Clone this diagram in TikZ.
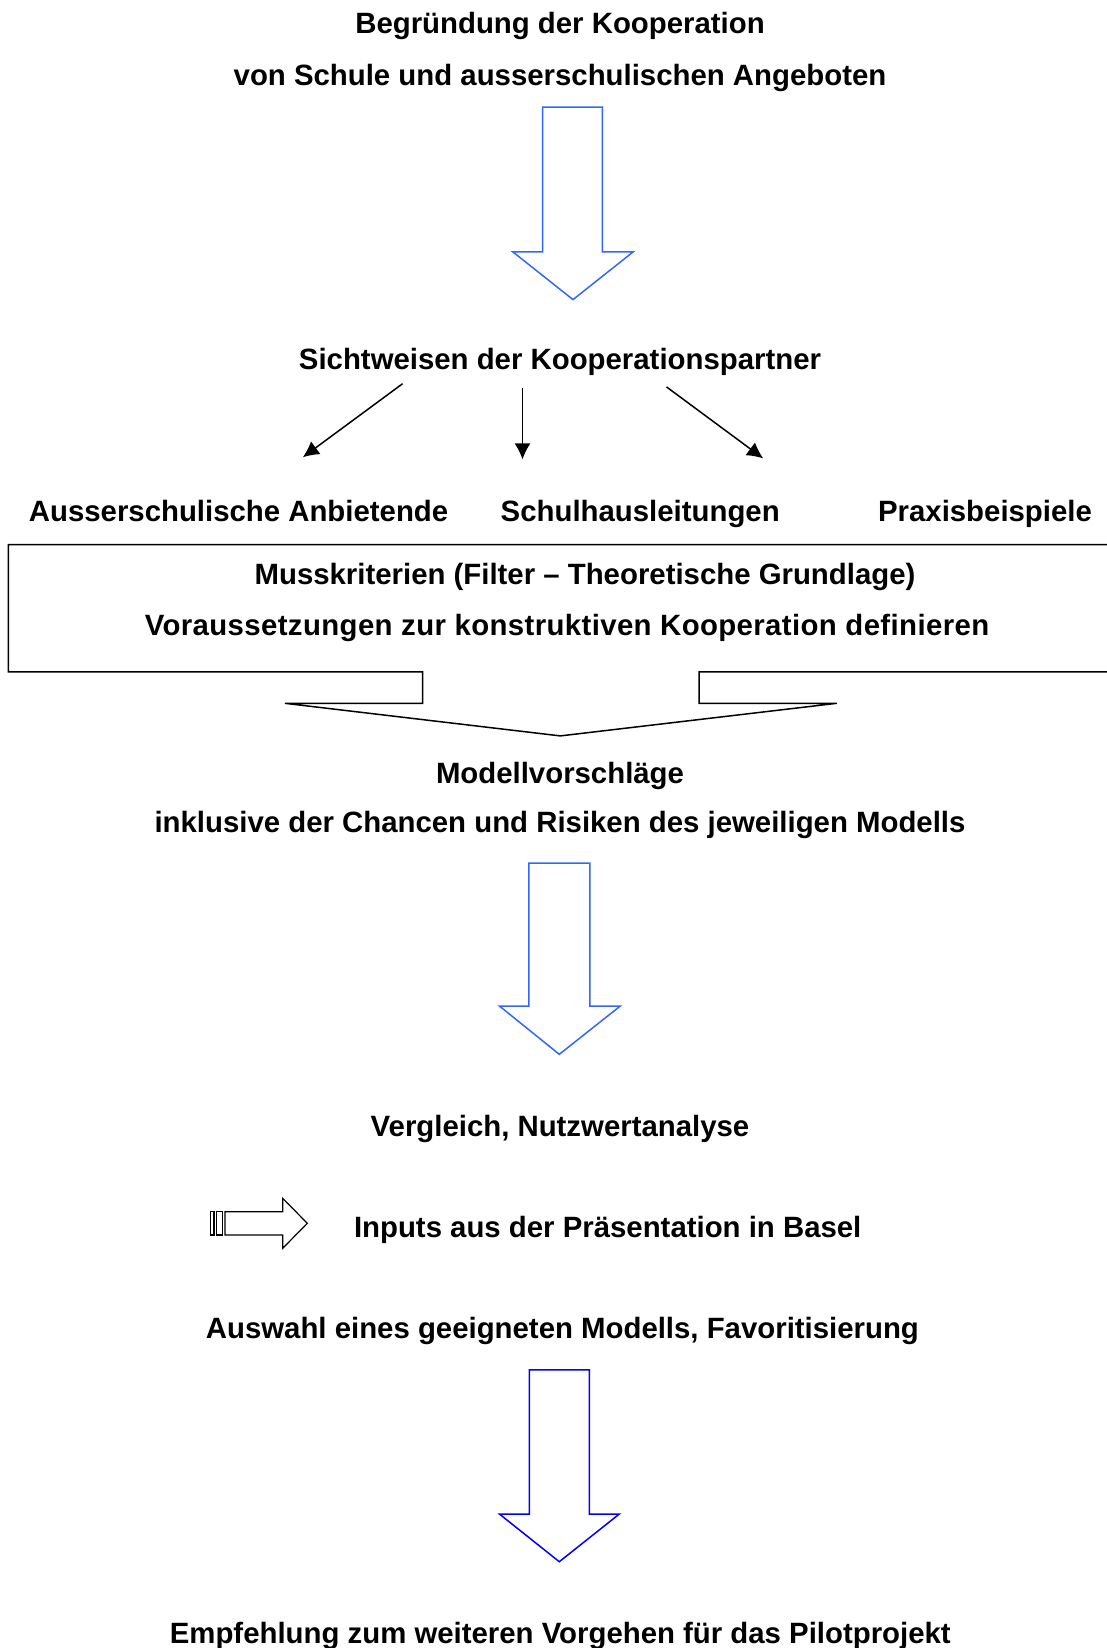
\documentclass[tikz,border=0pt]{standalone}
\usepackage{fontspec}
\setmainfont{Liberation Sans}
\usetikzlibrary{arrows.meta}
\definecolor{lightblue}{RGB}{51,102,255}
\definecolor{deepblue}{RGB}{0,0,255}

\begin{document}
\begin{tikzpicture}[x=0.5pt,y=-0.5pt,
    txt/.style={font=\fontsize{14.68}{25}\selectfont\bfseries, anchor=base, inner sep=0pt},
    hollow/.style={line width=0.75pt, line join=miter},
    thin arrow/.style={line width=0.75pt, -{Latex[length=8pt,width=8pt]}}]
		\useasboundingbox (0,0) rectangle (1107,1648);

		%headings
		\node[txt] (begr1) at (560,33.7) {Begründung der Kooperation};
		\node[txt] (begr2) at (560,85.2) {von Schule und ausserschulischen Angeboten};
		\node[txt] (sicht) at (560,369.1) {Sichtweisen der Kooperationspartner};
		\node[txt] (aussen) at (238.6,521.6) {Ausserschulische Anbietende};
		\node[txt] (leitung) at (640.2,521.6) {Schulhausleitungen};
		\node[txt] (praxis) at (985,521.6) {Praxisbeispiele};

		%first block arrow
		\draw[hollow, draw=lightblue] (542.5,107.2) -- (602.4,107.2) -- (602.4,252) -- (633,252) -- (573,299.6) -- (513,252) -- (542.5,252) -- cycle;

		%split arrows
		\coordinate (s1) at (402.6,383.7);
		\coordinate (e1) at (302.8,457.3);
		\coordinate (s2) at (522.5,387.9);
		\coordinate (e2) at (522.5,459.4);
		\coordinate (s3) at (666.5,386.9);
		\coordinate (e3) at (763.2,458.4);
		\draw[thin arrow] (s1) -- (e1);
		\draw[thin arrow] (s2) -- (e2);
		\draw[thin arrow] (s3) -- (e3);

		%filter
		\draw[hollow] (1120,544.6) -- (8.4,544.6) -- (8.4,671.8) -- (422.6,671.8) -- (422.6,703.3) -- (284.9,703.3) -- (560.3,735.9) -- (836.8,703.3) -- (699.1,703.3) -- (699.1,671.8) -- (1120,671.8);
		\node[txt] (muss1) at (585,584.6) {Musskriterien (Filter – Theoretische Grundlage)};
		\node[txt, font=\fontsize{14.68}{25}\selectfont\bfseries\addfontfeature{LetterSpace=1.3}] (muss2) at (567,635.1) {Voraussetzungen zur konstruktiven Kooperation definieren};

		%models
		\node[txt] (modell1) at (560,783.3) {Modellvorschläge};
		\node[txt] (modell2) at (560,832.7) {inklusive der Chancen und Risiken des jeweiligen Modells};
		\draw[hollow, draw=lightblue] (528.8,863.1) -- (589.8,863.1) -- (589.8,1006) -- (620.3,1006) -- (559.3,1054.3) -- (499.4,1006) -- (528.8,1006) -- cycle;
		\node[txt] (vergl) at (560,1136.6) {Vergleich, Nutzwertanalyse};

		%inputs
		\draw[line width=0.6pt] (210.7,1211.7) rectangle (214,1235);
		\draw[line width=0.6pt] (216.7,1211.7) rectangle (222.7,1235);
		\draw[line width=0.6pt] (225,1211.7) -- (282.7,1211.7) -- (282.7,1198.3) -- (307.3,1223.3) -- (282.7,1248.3) -- (282.7,1235) -- (225,1235) -- cycle;
		\node[txt] (inputs) at (607.7,1237.6) {Inputs aus der Präsentation in Basel};

		%choice
		\node[txt] (auswahl) at (562.4,1338.4) {Auswahl eines geeigneten Modells, Favoritisierung};
		\draw[hollow, draw=deepblue] (529.3,1369.8) -- (589.3,1369.8) -- (589.3,1514) -- (619.3,1514) -- (559.3,1561.7) -- (499.4,1514) -- (529.3,1514) -- cycle;
		\node[txt] (empf) at (560.3,1643.3) {Empfehlung zum weiteren Vorgehen für das Pilotprojekt};
\end{tikzpicture}
\end{document}
